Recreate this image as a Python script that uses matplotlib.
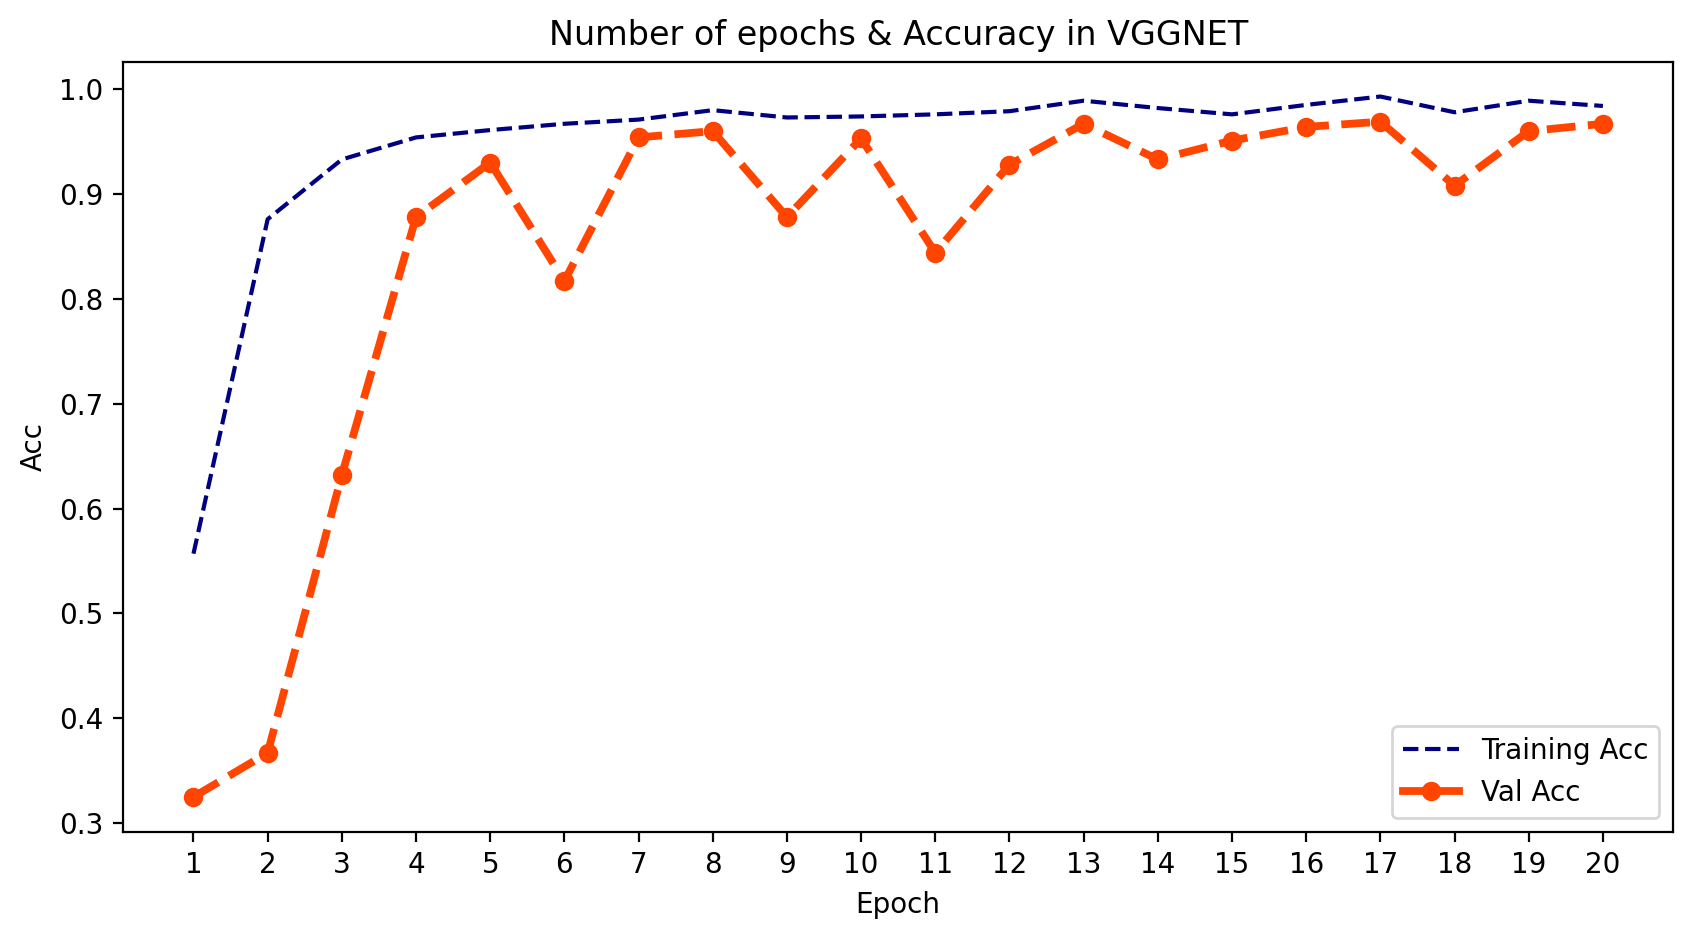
import matplotlib
matplotlib.use("Agg")
import matplotlib.pyplot as plt
from matplotlib.lines import Line2D

# Epochs and accuracy values
epochs = list(range(1, 21))
train_acc = [0.557, 0.876, 0.933, 0.954, 0.961, 0.967, 0.971, 0.980, 0.973, 0.974,
             0.976, 0.979, 0.989, 0.982, 0.976, 0.985, 0.993, 0.978, 0.989, 0.984]
val_acc = [0.325, 0.367, 0.632, 0.878, 0.930, 0.817, 0.954, 0.960, 0.878, 0.953,
           0.844, 0.928, 0.967, 0.933, 0.951, 0.964, 0.969, 0.908, 0.960, 0.967]

fig = plt.figure(figsize=(1692 / 200, 939 / 200), dpi=200)
ax = fig.add_axes([0.0727, 0.114, 0.9163, 0.8205])

train_line, = ax.plot(epochs, train_acc, "--", color="navy", label="Training Acc")
ax.plot(epochs, val_acc, "o--", color="orangered", linewidth=2.8, markersize=6)

ax.set_title("Number of epochs & Accuracy in VGGNET")
ax.set_xlabel("Epoch")
ax.set_ylabel("Acc")
ax.set_xticks(epochs)

# legend shows the val line as solid with a marker
val_handle = Line2D([], [], color="orangered", linewidth=2.8, marker="o", markersize=6)
ax.legend([train_line, val_handle], ["Training Acc", "Val Acc"], loc="lower right")

plt.savefig("out.png", dpi=200)
plt.close()
